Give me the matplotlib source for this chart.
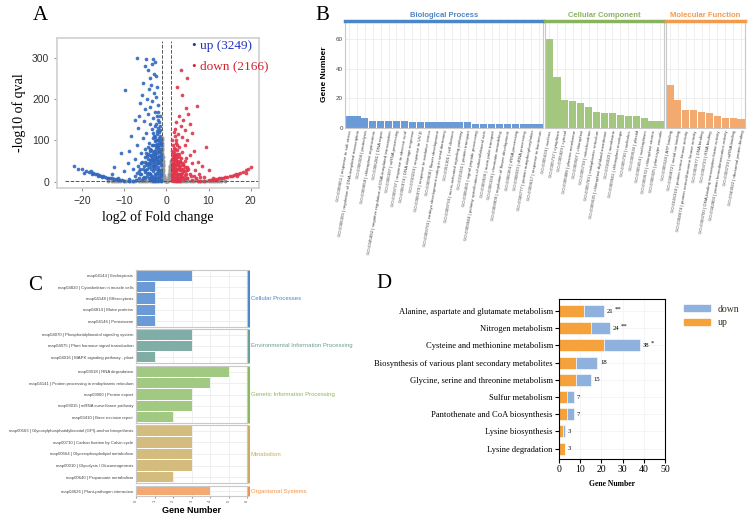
import numpy as np
import matplotlib.pyplot as plt
from matplotlib.patches import Patch

plt.rcParams['font.family'] = ['Liberation Sans', 'DejaVu Sans']
SERIF = ['Liberation Serif', 'DejaVu Serif']

W, H = 755, 518

# ---------------- datos panel A (volcano, puntos leidos a ojo) ----------------
up_pts = [(-6.9, 300), (-4.8, 297), (-3.3, 296), (-2.8, 290), (-3.5, 285), (-5, 280), (-4.3, 270),
          (-3, 262), (-2.5, 255), (-4, 250), (-5.5, 240), (-3.7, 235), (-2.2, 230), (-4.2, 225),
          (-9.8, 222), (-3, 215), (-5.8, 210), (-2.5, 205), (-4.6, 200), (-3.4, 195), (-6.2, 190),
          (-2, 185), (-3.8, 180), (-5, 175), (-2.7, 170), (-4.3, 165), (-6.5, 160), (-3.1, 155),
          (-2.1, 150), (-5.3, 148), (-7.5, 150), (-4, 140), (-2.6, 135), (-6.8, 130), (-3.5, 128),
          (-2.2, 122), (-4.8, 118), (-8.5, 110), (-3, 112), (-5.5, 105), (-2.4, 100), (-4.2, 95),
          (-7, 90), (-3.3, 88), (-2, 85), (-5.2, 80), (-9, 75), (-3.8, 75), (-6, 70), (-2.8, 68),
          (-4.5, 62), (-10.9, 69), (-7.5, 55), (-3.2, 55), (-5.7, 48), (-2.3, 50), (-9.2, 45),
          (-4.1, 42), (-6.8, 38), (-12.5, 35), (-3, 35), (-8, 30), (-5, 28), (-10, 25), (-2, 25),
          (-6.2, 20), (-4, 18), (-13, 18), (-7.5, 15), (-2.8, 12), (-11.5, 10), (-5.5, 8), (-9, 6),
          (-3.5, 5),
          (-22, 38), (-21, 32), (-20, 30), (-19.2, 27), (-18.5, 24), (-18, 26), (-17.5, 22),
          (-17, 20), (-16.5, 18), (-16, 17), (-15.5, 15), (-15, 13), (-14.5, 12), (-14, 10),
          (-13.5, 9), (-13, 8), (-12.5, 7), (-12, 6), (-11.5, 5), (-11, 4), (-10.5, 4), (-10, 3),
          (-9, 3), (-8, 3), (-19.5, 22), (-17.8, 18), (-16.2, 14), (-15.2, 11), (-14.2, 8),
          (-1.3, 5), (-1.4, 15), (-1.5, 28), (-1.3, 40), (-1.6, 52), (-1.4, 65), (-1.5, 80),
          (-1.3, 95), (-1.6, 110), (-1.7, 8), (-1.8, 20), (-1.9, 35), (-1.7, 48), (-2.0, 60),
          (-1.8, 72), (-1.9, 88), (-2.1, 100), (-1.8, 120), (-2.2, 10), (-2.3, 30), (-2.1, 45),
          (-2.4, 55), (-2.2, 70), (-2.5, 82), (-2.3, 92), (-2.6, 108), (-2.4, 140), (-2.7, 5),
          (-2.8, 18), (-2.6, 38), (-2.9, 48), (-2.7, 62), (-3.0, 75), (-2.8, 98), (-3.1, 118),
          (-3.2, 8), (-3.3, 25), (-3.1, 40), (-3.4, 58), (-3.3, 70), (-3.5, 90), (-3.2, 105),
          (-3.6, 12), (-3.7, 32), (-3.8, 45), (-3.6, 62), (-3.9, 80), (-4.0, 6), (-4.1, 22),
          (-4.2, 36), (-4.0, 52), (-4.3, 68), (-4.5, 15), (-4.6, 30), (-4.8, 45), (-4.4, 85),
          (-5.0, 10), (-5.2, 24), (-5.4, 38), (-5.0, 60), (-5.8, 5), (-6.0, 18), (-6.3, 32),
          (-6.6, 8), (-7.0, 22), (-7.2, 5),
          (-1.35, 22), (-1.45, 48), (-1.35, 58), (-1.55, 72), (-1.4, 88), (-1.5, 102), (-1.45, 125),
          (-1.6, 135), (-1.7, 28), (-1.65, 62), (-1.75, 95), (-1.85, 105), (-1.95, 12), (-1.9, 45),
          (-2.0, 78), (-2.05, 130), (-2.15, 22), (-2.2, 52), (-2.25, 85), (-2.35, 115), (-2.45, 18),
          (-2.5, 42), (-2.55, 60), (-2.65, 75), (-2.75, 88), (-2.85, 30), (-2.95, 8), (-3.05, 55),
          (-3.15, 65), (-3.25, 48), (-3.35, 15), (-3.45, 38), (-3.55, 78), (-3.7, 52), (-3.85, 20),
          (-3.95, 65), (-4.1, 45), (-4.25, 10), (-4.35, 55), (-4.55, 40), (-4.7, 22), (-4.9, 70),
          (-5.1, 48), (-5.3, 12), (-5.6, 30), (-6.1, 45), (-6.5, 25), (-1.6, 160), (-2.0, 170),
          (-2.3, 160), (-1.7, 145), (-1.4, 2), (-2.0, 3), (-2.6, 2), (-3.2, 2)]
down_pts = [(3.4, 270), (5, 250), (2.6, 229), (3.8, 210), (7.3, 183), (4.6, 178), (5.2, 165),
            (3, 160), (4, 150), (2.3, 145), (5.6, 140), (3.5, 135), (2, 128), (4.3, 125), (6, 118),
            (2.8, 115), (3.7, 108), (5, 100), (2.2, 95), (9.4, 85), (4.4, 90), (3.1, 85), (6.5, 75),
            (2, 80), (3.8, 72), (5.5, 65), (2.6, 62), (4.7, 58), (1.8, 55), (3.3, 50), (7.5, 48),
            (6, 45), (2.2, 42), (4, 40), (8.5, 38), (5, 35), (1.6, 35), (3, 30), (10, 28), (6.8, 28),
            (4.5, 25), (2, 22), (7.8, 20), (5.8, 15), (3.5, 15), (9, 12), (1.5, 12), (4.8, 8),
            (11, 8), (2.5, 5),
            (20, 35), (19.5, 30), (19, 28), (18.2, 24), (17.5, 22), (17, 20), (16.5, 18), (16, 16),
            (15.5, 15), (15, 13), (14.5, 12), (14, 11), (13.5, 10), (13, 9), (12.5, 8), (12, 7),
            (11.5, 6), (11, 5), (10.5, 4), (10, 4), (9, 3), (8, 3), (18.8, 22), (16.8, 15),
            (1.3, 4), (1.4, 14), (1.5, 25), (1.3, 35), (1.6, 45), (1.4, 55), (1.5, 68), (1.7, 8),
            (1.8, 18), (1.9, 30), (1.7, 40), (2.0, 52), (1.8, 62), (1.9, 72), (2.1, 5), (2.2, 15),
            (2.3, 25), (2.1, 35), (2.4, 45), (2.2, 58), (2.5, 68), (2.6, 10), (2.7, 20), (2.5, 32),
            (2.8, 40), (2.6, 50), (2.9, 60), (3.0, 5), (3.1, 18), (3.2, 28), (3.0, 38), (3.3, 48),
            (3.4, 8), (3.6, 22), (3.5, 32), (3.8, 12), (4.0, 25), (4.2, 4), (4.4, 16), (4.8, 28),
            (5.0, 10), (5.5, 20), (6.0, 5), (6.5, 14), (7.0, 8), (7.5, 3), (8.0, 12), (3.9, 42),
            (4.5, 36), (1.6, 90), (2.3, 100), (2.0, 110),
            (1.35, 20), (1.45, 42), (1.55, 60), (1.4, 75), (1.5, 8), (1.65, 28), (1.75, 50), (1.85, 82),
            (1.95, 40), (2.05, 65), (2.15, 25), (2.25, 8), (2.35, 52), (2.45, 18), (2.55, 78),
            (2.65, 42), (2.75, 30), (2.85, 12), (2.95, 48), (3.05, 68), (3.15, 8), (3.25, 38),
            (3.35, 20), (3.45, 58), (3.7, 45), (3.9, 30), (4.1, 10), (4.3, 50), (4.6, 20), (5.2, 30),
            (1.6, 2), (2.2, 2), (2.8, 2), (3.3, 2), (1.4, 100), (1.8, 120), (2.5, 88)]
ns_pts = [(-1.0, 100), (-0.95, 85), (-1.05, 70), (-0.9, 60), (-1.1, 50), (-0.85, 45), (-1.0, 35),
          (-0.8, 30), (-1.15, 25), (-0.7, 20), (-0.95, 18), (-0.6, 12), (-1.1, 10), (-0.5, 7),
          (-0.8, 5), (-0.3, 3), (-0.1, 2), (0.1, 2), (0.3, 3), (0.5, 6), (0.6, 10), (0.7, 15),
          (0.8, 22), (0.9, 30), (1.0, 40), (1.05, 50), (0.95, 35), (0.85, 18), (1.1, 12),
          (0.75, 8), (-1.2, 3), (-1.25, 8), (1.2, 4), (-1.05, 90), (-0.98, 78), (-1.02, 62),
          (-0.92, 40), (0.98, 45), (0.9, 26),
          (-1.05, 105), (-1.1, 95), (-1.0, 80), (-1.08, 65), (-0.97, 55), (-1.12, 42), (-0.9, 50),
          (-1.0, 28), (-0.88, 38), (-1.18, 15), (-0.75, 25), (-0.65, 15), (-0.55, 10), (-0.45, 5),
          (-0.2, 3), (0.2, 3), (0.4, 5), (0.55, 8), (0.65, 12), (0.72, 18), (0.82, 28), (0.92, 38),
          (0.95, 22), (1.02, 30), (1.1, 20), (1.15, 8), (-1.22, 12), (-1.18, 20),
          (-14, 1), (-13, 2), (-12, 1.5), (-11, 2.5), (-10, 2), (-9, 3), (-8, 2), (-7, 4), (-6, 3),
          (-5, 2), (-4, 3), (-3, 2), (-2, 2.5), (2, 2), (3, 3), (4, 2), (5, 3), (6, 2), (7, 4),
          (8, 2), (9, 3), (10, 2), (11, 2.5), (12, 1.5), (13, 2), (14, 1),
          (-12.5, 1), (-11.5, 1), (-9.5, 1), (-8.5, 1.5), (-7.5, 1), (-6.5, 1.5), (-5.5, 1),
          (-4.5, 1.5), (-3.5, 1), (-2.5, 1), (2.5, 1), (3.5, 1.5), (4.5, 1), (5.5, 1.5), (6.5, 1),
          (7.5, 1.5), (8.5, 1), (9.5, 1.5), (10.5, 1), (11.5, 1.5), (12.5, 1)]
up_x, up_y = zip(*up_pts)
down_x, down_y = zip(*down_pts)
ns_x, ns_y = zip(*ns_pts)

# ---------------- datos panel B (GO) ----------------
bp_labels = ["GO:0009651 | response to salt stress", "GO:0006355 | regulation of DNA-templated transcription",
             "GO:0006508 | proteolysis", "GO:0009658 | chloroplast organization", "GO:0006281 | DNA repair",
             "GO:0045892 | negative regulation of DNA-templated transcription", "GO:0006397 | mRNA processing",
             "GO:0009737 | response to abscisic acid", "GO:0006974 | DNA damage response",
             "GO:0010224 | response to UV-B", "GO:0006979 | response to oxidative stress",
             "GO:0009908 | flower development", "GO:0009793 | embryo development ending in seed dormancy",
             "GO:0051301 | cell division", "GO:0009734 | auxin-activated signaling pathway",
             "GO:0015031 | protein transport", "GO:0006465 | signal peptide processing",
             "GO:0009944 | polarity specification of adaxial/abaxial axis", "GO:0009926 | auxin polar transport",
             "GO:0006338 | chromatin remodeling", "GO:0009909 | regulation of flower development",
             "GO:0006364 | rRNA processing", "GO:0008033 | tRNA processing",
             "GO:0046777 | protein autophosphorylation", "GO:0009617 | response to bacterium"]
bp_vals = [8, 8, 7, 5, 5, 5, 5, 5, 4, 4, 4, 4, 4, 4, 4, 4, 3, 3, 3, 3, 3, 3, 3, 3, 3]
cc_labels = ["GO:0005634 | nucleus", "GO:0005737 | cytoplasm", "GO:0005829 | cytosol",
             "GO:0005886 | plasma membrane", "GO:0009507 | chloroplast", "GO:0005739 | mitochondrion",
             "GO:0005783 | endoplasmic reticulum", "GO:0009535 | chloroplast thylakoid membrane",
             "GO:0016020 | membrane", "GO:0009941 | chloroplast envelope", "GO:0005730 | nucleolus",
             "GO:0009536 | plastid", "GO:0005654 | nucleoplasm", "GO:0009570 | chloroplast stroma",
             "GO:0000325 | plant-type vacuole"]
cc_vals = [60, 34, 19, 18, 17, 14, 11, 10, 10, 9, 8, 8, 7, 5, 5]
mf_labels = ["GO:0005524 | ATP binding", "GO:0046872 | metal ion binding",
             "GO:0106310 | protein serine kinase activity", "GO:0004674 | protein serine/threonine kinase activity",
             "GO:0003677 | DNA binding", "GO:0003723 | RNA binding",
             "GO:0003700 | DNA-binding transcription factor activity",
             "GO:0042803 | protein homodimerization activity", "GO:0003729 | mRNA binding",
             "GO:0043022 | ribosomal protein binding"]
mf_vals = [29, 19, 12, 12, 11, 10, 8, 7, 7, 6]

# ---------------- datos panel C (KEGG) ----------------
kegg_groups = ["Cellular Processes", "Environmental Information Processing",
               "Genetic Information Processing", "Metabolism", "Organismal Systems"]
kegg_labels = [["map04144 | Endocytosis", "map04820 | Cytoskeleton in muscle cells",
                "map04148 | Efferocytosis", "map04814 | Motor proteins", "map04146 | Peroxisome"],
               ["map04070 | Phosphatidylinositol signaling system", "map04075 | Plant hormone signal transduction",
                "map04016 | MAPK signaling pathway - plant"],
               ["map03018 | RNA degradation", "map04141 | Protein processing in endoplasmic reticulum",
                "map03060 | Protein export", "map03015 | mRNA surveillance pathway", "map03410 | Base excision repair"],
               ["map00563 | Glycosylphosphatidylinositol (GPI)-anchor biosynthesis",
                "map00710 | Carbon fixation by Calvin cycle", "map00564 | Glycerophospholipid metabolism",
                "map00010 | Glycolysis / Gluconeogenesis", "map00640 | Propanoate metabolism"],
               ["map04626 | Plant-pathogen interaction"]]
kegg_vals = [[3, 1, 1, 1, 1], [3, 3, 1], [5, 4, 3, 3, 2], [3, 3, 3, 3, 2], [4]]

# ---------------- datos panel D ----------------
path_labels = ["Alanine, aspartate and glutamate metabolism", "Nitrogen metabolism",
               "Cysteine and methionine metabolism", "Biosynthesis of various plant secondary metabolites",
               "Glycine, serine and threonine metabolism", "Sulfur metabolism",
               "Pantothenate and CoA biosynthesis", "Lysine biosynthesis", "Lysine degradation"]
path_up = [12, 15, 21, 8, 8, 4, 4, 2, 3]
path_down = [9, 9, 17, 10, 7, 3, 3, 1, 0]
path_sig = ["**", "**", "*", "", "", "", "", "", ""]


def caja(l, t, r, b):
    return [l / W, 1 - b / H, (r - l) / W, (b - t) / H]


fig = plt.figure(figsize=(W / 100, H / 100), dpi=100)

# ======== A ========
ax = fig.add_axes(caja(57, 38, 259, 188))
ax.scatter(ns_x, ns_y, s=8, color='#9a9a9a', lw=0, zorder=2)
ax.scatter(up_x, up_y, s=7, color='#2f67bd', lw=0, alpha=0.9, zorder=3)
ax.scatter(down_x, down_y, s=7, color='#e0354b', lw=0, alpha=0.9, zorder=3)
ax.plot([-1, -1], [0, 340], ls='--', color='#555555', lw=0.7)
ax.plot([1, 1], [0, 340], ls='--', color='#555555', lw=0.7)
ax.plot([-24, 22], [2, 2], ls='--', color='#555555', lw=0.7)
ax.set_xlim(-26, 22)
ax.set_ylim(-15, 348)
ax.set_xticks([-20, -10, 0, 10, 20])
ax.set_yticks([0, 100, 200, 300])
ax.tick_params(labelsize=7.5, colors='#333333', length=2, color='#999999')
for s in ax.spines.values():
    s.set_color('#d0d0d0')
    s.set_linewidth(1.2)
ax.set_ylabel("-log10 of qval", family=SERIF, fontsize=10)
ax.set_xlabel("log2 of Fold change", family=SERIF, fontsize=10, labelpad=3)
ax.text(0.67, 0.93, "\u2022 up (3249)", transform=ax.transAxes, color='#2233bb', family=SERIF, fontsize=9.5)
ax.text(0.67, 0.79, "\u2022 down (2166)", transform=ax.transAxes, color='#d42030', family=SERIF, fontsize=9.5)
fig.text(40 / W, 1 - 15 / H, "A", family=SERIF, fontsize=15, va='center', ha='center')

# ======== B ========
go_sets = [(bp_labels, bp_vals, "Biological Process", '#6b9bd6', '#4a86c8', (345, 543)),
           (cc_labels, cc_vals, "Cellular Component", '#a3c77f', '#8ab35f', (545, 664)),
           (mf_labels, mf_vals, "Molecular Function", '#f2aa70', '#f39a4c', (666, 745))]
for i, (labs, vals, titulo, c_bar, c_strip, (l, r)) in enumerate(go_sets):
    ax = fig.add_axes(caja(l, 21, r, 128))
    ax.bar(range(len(vals)), vals, width=0.92, color=c_bar, zorder=2)
    ax.set_xlim(-0.5, len(vals) - 0.5)
    ax.set_ylim(0, 72)
    ax.set_xticks(range(len(vals)))
    ax.set_xticklabels(labs, rotation=80, ha='right', rotation_mode='anchor', fontsize=3.2, color='#444444')
    ax.set_yticks([0, 20, 40, 60])
    ax.grid(color='#ececec', lw=0.6, zorder=0)
    ax.tick_params(length=0, pad=1.5)
    if i == 0:
        ax.tick_params(axis='y', labelsize=4.5, colors='#444444')
        ax.set_ylabel("Gene Number", fontsize=6, fontweight='bold', labelpad=6)
    else:
        ax.set_yticklabels([])
    for s in ax.spines.values():
        s.set_color('#c8c8c8')
        s.set_linewidth(0.8)
    ax.spines['top'].set_color(c_strip)
    ax.spines['top'].set_linewidth(2.5)
    ax.set_title(titulo, color=c_strip, fontsize=5.5, fontweight='bold', pad=3)
fig.text(322 / W, 1 - 15 / H, "B", family=SERIF, fontsize=15, va='center', ha='center')

# ======== C ========
c_bars = ['#6b9bd6', '#80ada6', '#a2c982', '#d3bc7d', '#f4a872']
c_strips = ['#4a86c8', '#6a9e94', '#8ab85a', '#c8ab5e', '#f39244']
extents = [(270, 327), (329, 363), (366, 423), (425, 483), (486, 496)]
for g in range(5):
    t, b = extents[g]
    ax = fig.add_axes(caja(136, t, 247, b))
    vals = kegg_vals[g]
    ax.barh(range(len(vals)), vals, height=0.88, color=c_bars[g], zorder=2)
    ax.set_ylim(len(vals) - 0.5, -0.5)
    ax.set_xlim(0, 6)
    ax.set_yticks(range(len(vals)))
    ax.set_yticklabels(kegg_labels[g], fontsize=3.1, color='#444444')
    ax.set_xticks(range(7))
    ax.grid(color='#ececec', lw=0.6, zorder=0)
    ax.tick_params(length=0, pad=2)
    if g == 4:
        ax.set_xticklabels([str(v) for v in range(7)], rotation=90, fontsize=3, color='#555555')
        ax.tick_params(axis='x', length=1.5, color='#999999', pad=1)
        ax.set_xlabel("Gene Number", fontsize=6.5, fontweight='bold', labelpad=3)
    else:
        ax.set_xticklabels([])
    for s in ax.spines.values():
        s.set_color('#c8c8c8')
        s.set_linewidth(0.8)
    ax.plot([1.012, 1.012], [0, 1], transform=ax.transAxes, color=c_strips[g], lw=2.2, clip_on=False,
            solid_capstyle='butt')
    ax.text(1.035, 0.5, kegg_groups[g], transform=ax.transAxes, va='center', ha='left',
            color=c_strips[g], fontsize=4.3)
fig.text(35 / W, 1 - 285 / H, "C", family=SERIF, fontsize=15, va='center', ha='center')

# ======== D ========
ax = fig.add_axes(caja(559, 299, 665, 459))
yy = np.arange(len(path_labels))
total = np.array(path_up) + np.array(path_down)
ax.barh(yy, path_up, height=0.7, color='#f5a23c', edgecolor='white', lw=0.4, zorder=2, label='up')
ax.barh(yy, path_down, left=path_up, height=0.7, color='#8fb1de', edgecolor='white', lw=0.4,
        zorder=2, label='down')
for k in range(len(yy)):
    ax.text(total[k] + 1.3, yy[k], str(total[k]), va='center', ha='left', family=SERIF, fontsize=4.8)
    if path_sig[k]:
        ax.text(total[k] + 1.3 + 1.9 * len(str(total[k])), yy[k] - 0.12, path_sig[k], va='center',
                ha='left', family=SERIF, fontsize=4.8)
ax.set_ylim(len(yy) - 0.5 + 0.1, -0.5 - 0.2)
ax.set_xlim(0, 50)
ax.set_yticks(yy)
ax.set_yticklabels(path_labels, family=SERIF, fontsize=6.1)
ax.set_xticks([0, 10, 20, 30, 40, 50])
ax.set_xticklabels(['0', '10', '20', '30', '40', '50'], family=SERIF, fontsize=7)
ax.tick_params(length=3, width=0.8, pad=1.5)
ax.grid(color='#f2f2f2', lw=0.5, zorder=0)
for s in ax.spines.values():
    s.set_linewidth(0.8)
ax.set_xlabel("Gene Number", family=SERIF, fontweight='bold', fontsize=5.5, labelpad=4)
handles = [Patch(color='#8fb1de', label='down'), Patch(color='#f5a23c', label='up')]
leg = ax.legend(handles=handles, loc='upper left', bbox_to_anchor=(1.1, 1.02), frameon=False,
                prop={'family': SERIF, 'size': 7}, handlelength=2.6, handleheight=0.5, labelspacing=0.5)
for t in leg.get_texts():
    t.set_color('#333322')
fig.text(384 / W, 1 - 283 / H, "D", family=SERIF, fontsize=15, va='center', ha='center')

plt.savefig("out.png", dpi=100)
